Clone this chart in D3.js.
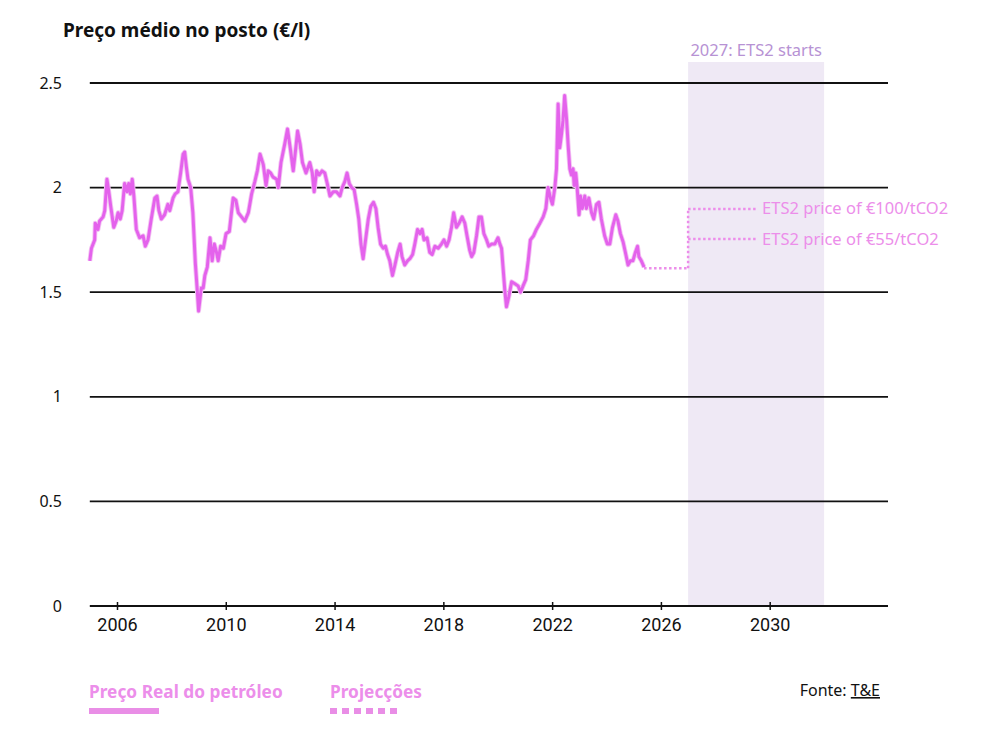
<!DOCTYPE html>
<html>
<head>
<meta charset="utf-8">
<script src="https://cdn.jsdelivr.net/npm/d3@7"></script>
<style>
  body { margin: 0; background: #fff; }
  svg text { font-family: "Noto Sans", Lato, sans-serif; }
  .narrow { font-family: "Liberation Sans Narrow", "Roboto", sans-serif; }
</style>
</head>
<body>
<div id="chart"></div>
<script>
// weekly-ish pump price (decimal year, €/l)
var years = [
  2005.00, 2005.06, 2005.18, 2005.20, 2005.30, 2005.36, 2005.49, 2005.55, 2005.63, 2005.69,
  2005.77, 2005.88, 2005.97, 2006.04, 2006.12, 2006.19, 2006.28, 2006.37, 2006.43, 2006.49,
  2006.56, 2006.62, 2006.71, 2006.83, 2006.96, 2007.04, 2007.14, 2007.26, 2007.39, 2007.47,
  2007.54, 2007.63, 2007.75, 2007.87, 2007.94, 2008.06, 2008.14, 2008.24, 2008.34, 2008.43,
  2008.49, 2008.55, 2008.61, 2008.71, 2008.79, 2008.88, 2008.95, 2009.00, 2009.10, 2009.17,
  2009.23, 2009.32, 2009.42, 2009.50, 2009.58, 2009.66, 2009.72, 2009.81, 2009.91, 2010.01,
  2010.13, 2010.27, 2010.37, 2010.46, 2010.58, 2010.70, 2010.83, 2010.95, 2011.07, 2011.16,
  2011.26, 2011.38, 2011.48, 2011.56, 2011.65, 2011.74, 2011.87, 2011.93, 2012.03, 2012.17,
  2012.27, 2012.38, 2012.48, 2012.55, 2012.64, 2012.73, 2012.82, 2012.95, 2013.09, 2013.18,
  2013.25, 2013.34, 2013.43, 2013.54, 2013.64, 2013.73, 2013.83, 2013.95, 2014.07, 2014.20,
  2014.28, 2014.38, 2014.46, 2014.54, 2014.63, 2014.72, 2014.81, 2014.89, 2014.97, 2015.05,
  2015.14, 2015.24, 2015.33, 2015.43, 2015.52, 2015.60, 2015.69, 2015.79, 2015.87, 2015.95,
  2016.03, 2016.13, 2016.22, 2016.32, 2016.41, 2016.48, 2016.58, 2016.68, 2016.77, 2016.87,
  2016.95, 2017.05, 2017.14, 2017.22, 2017.29, 2017.40, 2017.50, 2017.59, 2017.69, 2017.81,
  2017.93, 2018.02, 2018.12, 2018.21, 2018.30, 2018.38, 2018.48, 2018.58, 2018.69, 2018.79,
  2018.87, 2018.97, 2019.04, 2019.12, 2019.22, 2019.31, 2019.40, 2019.49, 2019.59, 2019.67,
  2019.77, 2019.89, 2020.01, 2020.08, 2020.14, 2020.20, 2020.26, 2020.32, 2020.41, 2020.51,
  2020.63, 2020.75, 2020.84, 2020.93, 2021.03, 2021.12, 2021.20, 2021.32, 2021.42, 2021.55,
  2021.67, 2021.77, 2021.85, 2021.94, 2022.01, 2022.10, 2022.16, 2022.22, 2022.28, 2022.34,
  2022.40, 2022.46, 2022.53, 2022.59, 2022.65, 2022.71, 2022.77, 2022.81, 2022.87, 2022.92,
  2022.99, 2023.04, 2023.11, 2023.20, 2023.26, 2023.35, 2023.45, 2023.53, 2023.63, 2023.72,
  2023.81, 2023.93, 2024.03, 2024.12, 2024.22, 2024.34, 2024.42, 2024.51, 2024.61, 2024.71,
  2024.79, 2024.88, 2024.97, 2025.06, 2025.14, 2025.19, 2025.28, 2025.38
];
var prices = [
  1.65, 1.71, 1.75, 1.83, 1.80, 1.84, 1.86, 1.89, 2.04, 1.99,
  1.91, 1.81, 1.84, 1.88, 1.85, 1.89, 2.02, 1.98, 2.02, 1.97,
  2.04, 1.96, 1.80, 1.76, 1.77, 1.72, 1.75, 1.85, 1.95, 1.96,
  1.89, 1.85, 1.87, 1.92, 1.89, 1.95, 1.97, 1.98, 2.07, 2.16,
  2.17, 2.10, 2.04, 2.00, 1.88, 1.64, 1.51, 1.41, 1.52, 1.52,
  1.58, 1.62, 1.76, 1.65, 1.73, 1.69, 1.65, 1.72, 1.71, 1.78,
  1.79, 1.95, 1.94, 1.88, 1.86, 1.84, 1.88, 1.97, 2.03, 2.08,
  2.16, 2.11, 2.01, 2.08, 2.07, 2.05, 2.04, 2.00, 2.12, 2.21,
  2.28, 2.18, 2.08, 2.16, 2.27, 2.21, 2.12, 2.07, 2.12, 2.07,
  1.98, 2.08, 2.06, 2.08, 2.07, 2.02, 1.96, 1.98, 1.98, 1.96,
  2.00, 2.03, 2.07, 2.02, 2.00, 1.99, 1.92, 1.85, 1.73, 1.66,
  1.75, 1.85, 1.91, 1.93, 1.90, 1.81, 1.73, 1.71, 1.72, 1.68,
  1.65, 1.58, 1.63, 1.69, 1.73, 1.67, 1.63, 1.65, 1.66, 1.68,
  1.73, 1.80, 1.78, 1.80, 1.75, 1.76, 1.69, 1.68, 1.72, 1.71,
  1.73, 1.75, 1.72, 1.75, 1.81, 1.88, 1.81, 1.83, 1.86, 1.83,
  1.77, 1.70, 1.67, 1.69, 1.77, 1.86, 1.86, 1.78, 1.75, 1.72,
  1.73, 1.73, 1.76, 1.73, 1.71, 1.61, 1.51, 1.43, 1.48, 1.55,
  1.54, 1.53, 1.50, 1.53, 1.56, 1.65, 1.75, 1.77, 1.80, 1.83,
  1.86, 1.90, 2.00, 1.95, 1.92, 2.00, 2.09, 2.40, 2.19, 2.25,
  2.32, 2.44, 2.33, 2.20, 2.09, 2.06, 2.09, 2.01, 2.07, 2.00,
  1.87, 1.96, 1.90, 1.96, 1.90, 1.95, 1.88, 1.85, 1.92, 1.93,
  1.85, 1.77, 1.73, 1.73, 1.81, 1.87, 1.84, 1.78, 1.74, 1.68,
  1.63, 1.65, 1.65, 1.69, 1.72, 1.67, 1.65, 1.62
];

// projection lines: flat until ETS2 starts, then the two price scenarios
var projFlat = [[2025.38, 1.615], [2027, 1.615]];
var projStep = [[2027, 1.615], [2027, 1.898]];
var scenarioLabels = ["ETS2 price of €100/tCO2", "ETS2 price of €55/tCO2"];
var scenarioValues = [1.898, 1.754];
var scenarioEnd = 2029.5;

var etsStart = 2027, etsEnd = 2032;
var xTicks = [2006, 2010, 2014, 2018, 2022, 2026, 2030];
var yTicks = [0, 0.5, 1, 1.5, 2, 2.5];

var W = 983, H = 730;
var svg = d3.select("#chart").append("svg")
  .attr("width", W).attr("height", H);

var x = d3.scaleLinear().domain([2005, 2034.35]).range([89.8, 888]);
var y = d3.scaleLinear().domain([0, 2.5]).range([606, 83]);

var lineColor = "#e462ec";
var lightPink = "#ec8eea";

// ETS2 band
svg.append("rect")
  .attr("x", x(etsStart)).attr("y", 62)
  .attr("width", x(etsEnd) - x(etsStart))
  .attr("height", y(0) - 62)
  .attr("fill", "#efe9f5");

svg.append("text")
  .attr("x", (x(etsStart) + x(etsEnd)) / 2).attr("y", 56)
  .attr("text-anchor", "middle")
  .attr("font-size", 16.5)
  .attr("fill", "#b792d4")
  .text("2027: ETS2 starts");

// grid lines
svg.append("g").selectAll("line")
  .data(yTicks.filter(function(d){ return d > 0; }))
  .enter().append("line")
  .attr("x1", x.range()[0]).attr("x2", x.range()[1])
  .attr("y1", function(d){ return y(d); })
  .attr("y2", function(d){ return y(d); })
  .attr("stroke", "#111").attr("stroke-width", 1.8);

// y labels
svg.append("g").selectAll("text")
  .data(yTicks)
  .enter().append("text")
  .attr("x", 62).attr("y", function(d){ return y(d) + 5.5; })
  .attr("text-anchor", "end")
  .attr("font-size", 16)
  .attr("fill", "#111")
  .text(function(d){ return d; });

// x axis
var xAxis = svg.append("g")
  .attr("transform", "translate(0," + y(0) + ")")
  .call(d3.axisBottom(x).tickValues(xTicks).tickFormat(d3.format("d")).tickSize(4).tickPadding(8));
xAxis.select(".domain").attr("stroke", "#111").attr("stroke-width", 2)
  .attr("d", "M" + x.range()[0] + ",0H" + x.range()[1]);
xAxis.selectAll(".tick line").attr("stroke", "#111").attr("stroke-width", 1.5).attr("y1", -4);
xAxis.selectAll(".tick text")
  .attr("class", "narrow")
  .attr("font-size", 18)
  .attr("fill", "#111");

// projections (dotted)
var dotted = function(sel) {
  return sel.attr("fill", "none").attr("stroke", lightPink)
    .attr("stroke-width", 2.5).attr("stroke-dasharray", "2.5 2.5");
};
var pl = d3.line().x(function(d){ return x(d[0]); }).y(function(d){ return y(d[1]); });
dotted(svg.append("path").attr("d", pl(projFlat)));
dotted(svg.append("path").attr("d", pl(projStep)));
scenarioValues.forEach(function(v, i) {
  dotted(svg.append("path").attr("d", pl([[etsStart, v], [scenarioEnd, v]])));
  svg.append("text")
    .attr("x", x(scenarioEnd) + 6).attr("y", y(v) + 5.5)
    .attr("font-size", 16.5)
    .attr("fill", lightPink)
    .text(scenarioLabels[i]);
});

// real price line
var data = years.map(function(t, i){ return {t: t, p: prices[i]}; });
var line = d3.line()
  .x(function(d){ return x(d.t); })
  .y(function(d){ return y(d.p); });
svg.append("path")
  .datum(data)
  .attr("d", line)
  .attr("fill", "none")
  .attr("stroke", "#f3c4f3")
  .attr("stroke-width", 4.8)
  .attr("stroke-linejoin", "round");
svg.append("path")
  .datum(data)
  .attr("d", line)
  .attr("fill", "none")
  .attr("stroke", lineColor)
  .attr("stroke-width", 3)
  .attr("stroke-linejoin", "round");

// title
svg.append("text")
  .attr("x", 63).attr("y", 37)
  .attr("font-size", 19).attr("font-weight", 700)
  .attr("fill", "#111")
  .text("Preço médio no posto (€/l)");

// legend
svg.append("text")
  .attr("x", 89).attr("y", 698)
  .attr("font-size", 17.3).attr("font-weight", 700)
  .attr("fill", lightPink)
  .text("Preço Real do petróleo");
svg.append("line")
  .attr("x1", 89).attr("x2", 159).attr("y1", 711).attr("y2", 711)
  .attr("stroke", "#e98ee6").attr("stroke-width", 6);

svg.append("text")
  .attr("x", 330).attr("y", 698)
  .attr("font-size", 17.3).attr("font-weight", 700)
  .attr("fill", lightPink)
  .text("Projecções");
svg.append("line")
  .attr("x1", 330).attr("x2", 397).attr("y1", 711).attr("y2", 711)
  .attr("stroke", "#e98ee6").attr("stroke-width", 6)
  .attr("stroke-dasharray", "7 5");

// source
var src = svg.append("text")
  .attr("x", 880).attr("y", 696)
  .attr("text-anchor", "end")
  .attr("font-size", 16)
  .attr("fill", "#111");
src.append("tspan").text("Fonte: ");
src.append("tspan").attr("text-decoration", "underline").text("T&E");
</script>
</body>
</html>
